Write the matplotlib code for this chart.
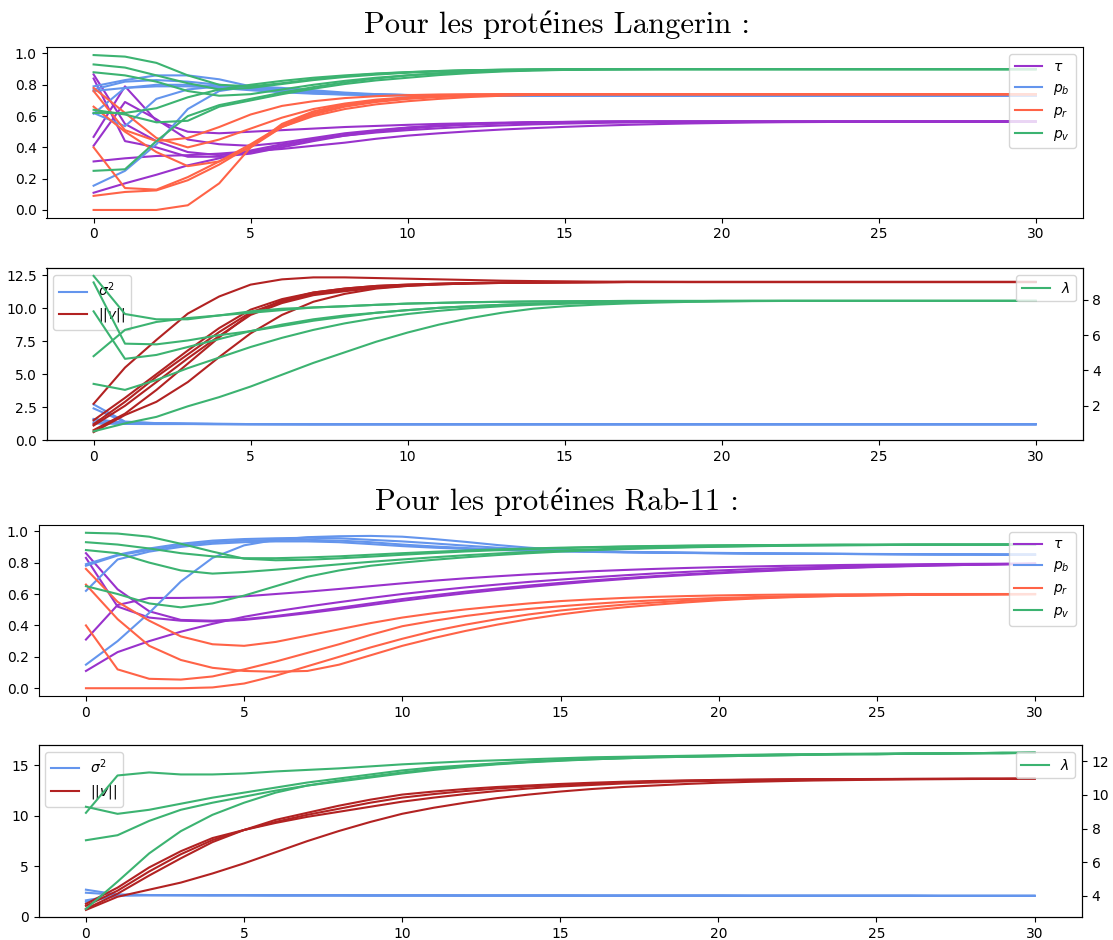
import matplotlib
matplotlib.use("Agg")
import matplotlib.pyplot as plt

# ---------------- Langerin : parameters (one list per run) ----------------
LANG_TAU = [
    [0.31, 0.33, 0.345, 0.35, 0.36, 0.375, 0.39, 0.41, 0.43, 0.455, 0.475, 0.49, 0.503, 0.514, 0.523, 0.531,
     0.538, 0.544, 0.549, 0.553, 0.556, 0.559, 0.561, 0.562, 0.563, 0.564, 0.565, 0.565, 0.565, 0.565, 0.565],
    [0.11, 0.17, 0.225, 0.285, 0.33, 0.38, 0.42, 0.45, 0.475, 0.495, 0.51, 0.522, 0.532, 0.54, 0.547, 0.552,
     0.556, 0.559, 0.561, 0.563, 0.564, 0.565, 0.565, 0.565, 0.565, 0.565, 0.565, 0.565, 0.565, 0.565, 0.565],
    [0.467, 0.79, 0.57, 0.50, 0.49, 0.50, 0.51, 0.52, 0.53, 0.537, 0.544, 0.55, 0.554, 0.558, 0.561, 0.563,
     0.564, 0.565, 0.565, 0.565, 0.565, 0.565, 0.565, 0.565, 0.565, 0.565, 0.565, 0.565, 0.565, 0.565, 0.565],
    [0.41, 0.69, 0.58, 0.45, 0.42, 0.41, 0.43, 0.46, 0.49, 0.51, 0.527, 0.54, 0.549, 0.555, 0.559, 0.562,
     0.564, 0.565, 0.565, 0.565, 0.565, 0.565, 0.565, 0.565, 0.565, 0.565, 0.565, 0.565, 0.565, 0.565, 0.565],
    [0.866, 0.55, 0.44, 0.37, 0.35, 0.37, 0.41, 0.45, 0.48, 0.505, 0.525, 0.538, 0.548, 0.555, 0.559, 0.562,
     0.564, 0.565, 0.565, 0.565, 0.565, 0.565, 0.565, 0.565, 0.565, 0.565, 0.565, 0.565, 0.565, 0.565, 0.565],
    [0.84, 0.44, 0.40, 0.34, 0.34, 0.36, 0.40, 0.44, 0.475, 0.50, 0.52, 0.535, 0.546, 0.553, 0.558, 0.561,
     0.563, 0.565, 0.565, 0.565, 0.565, 0.565, 0.565, 0.565, 0.565, 0.565, 0.565, 0.565, 0.565, 0.565, 0.565],
]
LANG_PB = [
    [0.155, 0.25, 0.42, 0.645, 0.76, 0.79, 0.78, 0.765, 0.75, 0.74, 0.735, 0.732, 0.731, 0.73, 0.73, 0.73,
     0.73, 0.73, 0.73, 0.73, 0.73, 0.73, 0.73, 0.73, 0.73, 0.73, 0.73, 0.73, 0.73, 0.73, 0.73],
    [0.62, 0.535, 0.71, 0.77, 0.79, 0.785, 0.77, 0.755, 0.745, 0.738, 0.734, 0.732, 0.731, 0.73, 0.73, 0.73,
     0.73, 0.73, 0.73, 0.73, 0.73, 0.73, 0.73, 0.73, 0.73, 0.73, 0.73, 0.73, 0.73, 0.73, 0.73],
    [0.615, 0.78, 0.80, 0.80, 0.79, 0.775, 0.76, 0.75, 0.742, 0.737, 0.734, 0.732, 0.731, 0.73, 0.73, 0.73,
     0.73, 0.73, 0.73, 0.73, 0.73, 0.73, 0.73, 0.73, 0.73, 0.73, 0.73, 0.73, 0.73, 0.73, 0.73],
    [0.79, 0.83, 0.86, 0.86, 0.835, 0.79, 0.765, 0.75, 0.742, 0.737, 0.734, 0.732, 0.731, 0.73, 0.73, 0.73,
     0.73, 0.73, 0.73, 0.73, 0.73, 0.73, 0.73, 0.73, 0.73, 0.73, 0.73, 0.73, 0.73, 0.73, 0.73],
    [0.77, 0.82, 0.83, 0.82, 0.80, 0.775, 0.757, 0.746, 0.739, 0.735, 0.733, 0.731, 0.73, 0.73, 0.73, 0.73,
     0.73, 0.73, 0.73, 0.73, 0.73, 0.73, 0.73, 0.73, 0.73, 0.73, 0.73, 0.73, 0.73, 0.73, 0.73],
    [0.76, 0.78, 0.79, 0.79, 0.78, 0.765, 0.752, 0.743, 0.737, 0.734, 0.732, 0.731, 0.73, 0.73, 0.73, 0.73,
     0.73, 0.73, 0.73, 0.73, 0.73, 0.73, 0.73, 0.73, 0.73, 0.73, 0.73, 0.73, 0.73, 0.73, 0.73],
]
LANG_PR = [
    [0.0, 0.0, 0.0, 0.03, 0.17, 0.40, 0.53, 0.60, 0.645, 0.675, 0.695, 0.71, 0.722, 0.73, 0.735, 0.738,
     0.74, 0.74, 0.74, 0.74, 0.74, 0.74, 0.74, 0.74, 0.74, 0.74, 0.74, 0.74, 0.74, 0.74, 0.74],
    [0.09, 0.115, 0.125, 0.19, 0.29, 0.41, 0.53, 0.61, 0.66, 0.69, 0.71, 0.722, 0.73, 0.735, 0.738, 0.74,
     0.74, 0.74, 0.74, 0.74, 0.74, 0.74, 0.74, 0.74, 0.74, 0.74, 0.74, 0.74, 0.74, 0.74, 0.74],
    [0.40, 0.14, 0.13, 0.21, 0.31, 0.42, 0.54, 0.62, 0.665, 0.695, 0.713, 0.725, 0.732, 0.736, 0.739, 0.74,
     0.74, 0.74, 0.74, 0.74, 0.74, 0.74, 0.74, 0.74, 0.74, 0.74, 0.74, 0.74, 0.74, 0.74, 0.74],
    [0.66, 0.50, 0.37, 0.28, 0.31, 0.40, 0.55, 0.63, 0.675, 0.70, 0.716, 0.727, 0.733, 0.737, 0.739, 0.74,
     0.74, 0.74, 0.74, 0.74, 0.74, 0.74, 0.74, 0.74, 0.74, 0.74, 0.74, 0.74, 0.74, 0.74, 0.74],
    [0.78, 0.62, 0.46, 0.40, 0.45, 0.52, 0.59, 0.645, 0.68, 0.705, 0.72, 0.73, 0.735, 0.738, 0.74, 0.74,
     0.74, 0.74, 0.74, 0.74, 0.74, 0.74, 0.74, 0.74, 0.74, 0.74, 0.74, 0.74, 0.74, 0.74, 0.74],
    [0.76, 0.51, 0.44, 0.46, 0.53, 0.61, 0.665, 0.695, 0.715, 0.727, 0.734, 0.738, 0.74, 0.74, 0.74, 0.74,
     0.74, 0.74, 0.74, 0.74, 0.74, 0.74, 0.74, 0.74, 0.74, 0.74, 0.74, 0.74, 0.74, 0.74, 0.74],
]
LANG_PV = [
    [0.99, 0.98, 0.94, 0.86, 0.80, 0.79, 0.81, 0.835, 0.855, 0.87, 0.88, 0.888, 0.893, 0.896, 0.898, 0.899,
     0.9, 0.9, 0.9, 0.9, 0.9, 0.9, 0.9, 0.9, 0.9, 0.9, 0.9, 0.9, 0.9, 0.9, 0.9],
    [0.93, 0.91, 0.86, 0.81, 0.77, 0.78, 0.805, 0.83, 0.85, 0.865, 0.877, 0.886, 0.892, 0.895, 0.897, 0.899,
     0.9, 0.9, 0.9, 0.9, 0.9, 0.9, 0.9, 0.9, 0.9, 0.9, 0.9, 0.9, 0.9, 0.9, 0.9],
    [0.88, 0.86, 0.82, 0.76, 0.73, 0.74, 0.77, 0.80, 0.825, 0.845, 0.86, 0.872, 0.881, 0.888, 0.893, 0.896,
     0.898, 0.899, 0.9, 0.9, 0.9, 0.9, 0.9, 0.9, 0.9, 0.9, 0.9, 0.9, 0.9, 0.9, 0.9],
    [0.64, 0.61, 0.56, 0.57, 0.66, 0.70, 0.74, 0.775, 0.805, 0.828, 0.845, 0.862, 0.875, 0.885, 0.891, 0.895,
     0.898, 0.899, 0.9, 0.9, 0.9, 0.9, 0.9, 0.9, 0.9, 0.9, 0.9, 0.9, 0.9, 0.9, 0.9],
    [0.62, 0.62, 0.65, 0.72, 0.77, 0.80, 0.825, 0.845, 0.86, 0.872, 0.881, 0.888, 0.893, 0.896, 0.898, 0.899,
     0.9, 0.9, 0.9, 0.9, 0.9, 0.9, 0.9, 0.9, 0.9, 0.9, 0.9, 0.9, 0.9, 0.9, 0.9],
    [0.25, 0.26, 0.44, 0.60, 0.67, 0.71, 0.75, 0.785, 0.815, 0.84, 0.86, 0.874, 0.884, 0.891, 0.895, 0.898,
     0.899, 0.9, 0.9, 0.9, 0.9, 0.9, 0.9, 0.9, 0.9, 0.9, 0.9, 0.9, 0.9, 0.9, 0.9],
]

# ---------------- Langerin : variance, norm, lambda ----------------
LANG_SIGMA2 = [
    [2.7, 1.4, 1.28, 1.24, 1.22, 1.21, 1.21, 1.2, 1.2, 1.2, 1.2, 1.2, 1.2, 1.2, 1.2, 1.2,
     1.2, 1.2, 1.2, 1.2, 1.2, 1.2, 1.2, 1.2, 1.2, 1.2, 1.2, 1.2, 1.2, 1.2, 1.2],
    [2.4, 1.35, 1.27, 1.24, 1.22, 1.21, 1.21, 1.2, 1.2, 1.2, 1.2, 1.2, 1.2, 1.2, 1.2, 1.2,
     1.2, 1.2, 1.2, 1.2, 1.2, 1.2, 1.2, 1.2, 1.2, 1.2, 1.2, 1.2, 1.2, 1.2, 1.2],
    [1.6, 1.3, 1.25, 1.23, 1.22, 1.21, 1.2, 1.2, 1.2, 1.2, 1.2, 1.2, 1.2, 1.2, 1.2, 1.2,
     1.2, 1.2, 1.2, 1.2, 1.2, 1.2, 1.2, 1.2, 1.2, 1.2, 1.2, 1.2, 1.2, 1.2, 1.2],
    [1.55, 1.28, 1.24, 1.22, 1.21, 1.21, 1.2, 1.2, 1.2, 1.2, 1.2, 1.2, 1.2, 1.2, 1.2, 1.2,
     1.2, 1.2, 1.2, 1.2, 1.2, 1.2, 1.2, 1.2, 1.2, 1.2, 1.2, 1.2, 1.2, 1.2, 1.2],
    [1.35, 1.25, 1.23, 1.22, 1.21, 1.2, 1.2, 1.2, 1.2, 1.2, 1.2, 1.2, 1.2, 1.2, 1.2, 1.2,
     1.2, 1.2, 1.2, 1.2, 1.2, 1.2, 1.2, 1.2, 1.2, 1.2, 1.2, 1.2, 1.2, 1.2, 1.2],
    [1.25, 1.22, 1.21, 1.21, 1.2, 1.2, 1.2, 1.2, 1.2, 1.2, 1.2, 1.2, 1.2, 1.2, 1.2, 1.2,
     1.2, 1.2, 1.2, 1.2, 1.2, 1.2, 1.2, 1.2, 1.2, 1.2, 1.2, 1.2, 1.2, 1.2, 1.2],
]
LANG_NORM_V = [
    [2.75, 5.5, 7.6, 9.6, 10.9, 11.8, 12.2, 12.35, 12.35, 12.3, 12.25, 12.2, 12.15, 12.1, 12.07, 12.05,
     12.03, 12.02, 12.01, 12.0, 12.0, 12.0, 12.0, 12.0, 12.0, 12.0, 12.0, 12.0, 12.0, 12.0, 12.0],
    [1.5, 3.2, 5.0, 6.8, 8.5, 9.9, 10.7, 11.2, 11.5, 11.7, 11.8, 11.87, 11.92, 11.95, 11.97, 11.98,
     11.99, 12.0, 12.0, 12.0, 12.0, 12.0, 12.0, 12.0, 12.0, 12.0, 12.0, 12.0, 12.0, 12.0, 12.0],
    [1.2, 2.9, 4.8, 6.5, 8.2, 9.7, 10.5, 11.1, 11.4, 11.6, 11.75, 11.84, 11.9, 11.94, 11.96, 11.98,
     11.99, 12.0, 12.0, 12.0, 12.0, 12.0, 12.0, 12.0, 12.0, 12.0, 12.0, 12.0, 12.0, 12.0, 12.0],
    [1.1, 2.6, 4.4, 6.2, 7.9, 9.5, 10.4, 11.0, 11.3, 11.55, 11.72, 11.82, 11.89, 11.93, 11.96, 11.98,
     11.99, 12.0, 12.0, 12.0, 12.0, 12.0, 12.0, 12.0, 12.0, 12.0, 12.0, 12.0, 12.0, 12.0, 12.0],
    [0.75, 2.0, 3.8, 5.8, 7.8, 9.6, 10.6, 11.2, 11.5, 11.7, 11.8, 11.87, 11.92, 11.95, 11.97, 11.98,
     11.99, 12.0, 12.0, 12.0, 12.0, 12.0, 12.0, 12.0, 12.0, 12.0, 12.0, 12.0, 12.0, 12.0, 12.0],
    [0.6, 1.9, 2.9, 4.4, 6.3, 8.1, 9.5, 10.5, 11.1, 11.5, 11.7, 11.82, 11.89, 11.93, 11.96, 11.98,
     11.99, 12.0, 12.0, 12.0, 12.0, 12.0, 12.0, 12.0, 12.0, 12.0, 12.0, 12.0, 12.0, 12.0, 12.0],
]
LANG_LAMBDA = [
    [9.35, 7.19, 6.89, 6.89, 7.11, 7.34, 7.49, 7.56, 7.63, 7.71, 7.78, 7.82, 7.86, 7.88, 7.90, 7.91,
     7.92, 7.93, 7.93, 7.93, 7.93, 7.93, 7.93, 7.93, 7.93, 7.93, 7.93, 7.93, 7.93, 7.93, 7.93],
    [8.98, 5.51, 5.47, 5.69, 5.99, 6.22, 6.51, 6.81, 7.04, 7.26, 7.41, 7.54, 7.63, 7.71, 7.77, 7.81,
     7.85, 7.88, 7.90, 7.92, 7.93, 7.93, 7.93, 7.93, 7.93, 7.93, 7.93, 7.93, 7.93, 7.93, 7.93],
    [7.34, 4.65, 4.87, 5.32, 5.77, 6.22, 6.59, 6.89, 7.11, 7.26, 7.41, 7.54, 7.63, 7.71, 7.77, 7.81,
     7.85, 7.88, 7.90, 7.92, 7.93, 7.93, 7.93, 7.93, 7.93, 7.93, 7.93, 7.93, 7.93, 7.93, 7.93],
    [4.80, 6.29, 6.74, 6.96, 7.11, 7.26, 7.41, 7.56, 7.63, 7.71, 7.78, 7.82, 7.86, 7.88, 7.90, 7.91,
     7.92, 7.93, 7.93, 7.93, 7.93, 7.93, 7.93, 7.93, 7.93, 7.93, 7.93, 7.93, 7.93, 7.93, 7.93],
    [3.23, 2.89, 3.45, 4.12, 4.72, 5.32, 5.84, 6.29, 6.66, 6.96, 7.19, 7.37, 7.52, 7.63, 7.71, 7.77,
     7.81, 7.85, 7.88, 7.90, 7.92, 7.93, 7.93, 7.93, 7.93, 7.93, 7.93, 7.93, 7.93, 7.93, 7.93],
    [0.54, 0.99, 1.36, 1.96, 2.48, 3.08, 3.75, 4.42, 5.02, 5.62, 6.14, 6.59, 6.96, 7.26, 7.49, 7.63,
     7.72, 7.79, 7.84, 7.88, 7.90, 7.92, 7.93, 7.93, 7.93, 7.93, 7.93, 7.93, 7.93, 7.93, 7.93],
]

# ---------------- Rab-11 : parameters ----------------
RAB_TAU = [
    [0.86, 0.63, 0.49, 0.435, 0.43, 0.44, 0.46, 0.485, 0.512, 0.54, 0.568, 0.592, 0.615, 0.635, 0.654, 0.671,
     0.687, 0.701, 0.714, 0.726, 0.737, 0.746, 0.755, 0.762, 0.768, 0.774, 0.779, 0.783, 0.786, 0.789, 0.792],
    [0.83, 0.52, 0.45, 0.43, 0.425, 0.435, 0.455, 0.478, 0.503, 0.53, 0.557, 0.582, 0.605, 0.626, 0.645, 0.663,
     0.68, 0.695, 0.709, 0.721, 0.732, 0.742, 0.751, 0.759, 0.766, 0.772, 0.777, 0.782, 0.786, 0.789, 0.792],
    [0.31, 0.53, 0.575, 0.575, 0.578, 0.585, 0.60, 0.615, 0.632, 0.65, 0.668, 0.685, 0.70, 0.713, 0.725, 0.735,
     0.745, 0.753, 0.76, 0.766, 0.771, 0.775, 0.779, 0.782, 0.785, 0.787, 0.789, 0.791, 0.792, 0.793, 0.794],
    [0.11, 0.23, 0.30, 0.36, 0.41, 0.455, 0.49, 0.52, 0.548, 0.575, 0.6, 0.622, 0.642, 0.66, 0.677, 0.692,
     0.706, 0.719, 0.731, 0.741, 0.75, 0.758, 0.765, 0.771, 0.776, 0.78, 0.784, 0.787, 0.789, 0.791, 0.793],
]
RAB_PB = [
    [0.15, 0.30, 0.48, 0.68, 0.83, 0.91, 0.945, 0.962, 0.968, 0.97, 0.965, 0.95, 0.932, 0.912, 0.895, 0.882,
     0.874, 0.869, 0.866, 0.864, 0.862, 0.86, 0.858, 0.857, 0.856, 0.855, 0.854, 0.853, 0.852, 0.851, 0.851],
    [0.62, 0.82, 0.87, 0.90, 0.92, 0.93, 0.935, 0.935, 0.93, 0.918, 0.905, 0.895, 0.887, 0.88, 0.875, 0.871,
     0.868, 0.865, 0.863, 0.861, 0.86, 0.858, 0.857, 0.856, 0.855, 0.854, 0.853, 0.852, 0.852, 0.851, 0.851],
    [0.79, 0.85, 0.89, 0.92, 0.94, 0.95, 0.955, 0.958, 0.955, 0.945, 0.935, 0.922, 0.908, 0.895, 0.885, 0.877,
     0.871, 0.867, 0.864, 0.862, 0.86, 0.858, 0.857, 0.856, 0.855, 0.854, 0.853, 0.852, 0.852, 0.851, 0.851],
    [0.78, 0.845, 0.88, 0.91, 0.93, 0.94, 0.945, 0.945, 0.94, 0.93, 0.915, 0.903, 0.893, 0.885, 0.879, 0.874,
     0.87, 0.867, 0.864, 0.862, 0.86, 0.858, 0.857, 0.856, 0.855, 0.854, 0.853, 0.852, 0.852, 0.851, 0.851],
]
RAB_PR = [
    [0.76, 0.55, 0.43, 0.33, 0.28, 0.27, 0.295, 0.335, 0.375, 0.415, 0.45, 0.478, 0.502, 0.522, 0.54, 0.555,
     0.566, 0.575, 0.582, 0.587, 0.591, 0.594, 0.596, 0.597, 0.598, 0.599, 0.6, 0.6, 0.6, 0.6, 0.6],
    [0.40, 0.12, 0.06, 0.055, 0.075, 0.12, 0.17, 0.225, 0.28, 0.34, 0.395, 0.43, 0.46, 0.485, 0.505, 0.522,
     0.537, 0.55, 0.56, 0.568, 0.575, 0.58, 0.585, 0.589, 0.592, 0.594, 0.596, 0.597, 0.598, 0.599, 0.6],
    [0.66, 0.44, 0.27, 0.18, 0.13, 0.11, 0.105, 0.11, 0.15, 0.21, 0.27, 0.32, 0.365, 0.405, 0.44, 0.47,
     0.495, 0.515, 0.532, 0.547, 0.56, 0.57, 0.578, 0.584, 0.589, 0.592, 0.594, 0.596, 0.597, 0.598, 0.599],
    [0.0, 0.0, 0.0, 0.0, 0.005, 0.03, 0.08, 0.14, 0.2, 0.26, 0.315, 0.365, 0.405, 0.44, 0.47, 0.495,
     0.515, 0.532, 0.546, 0.557, 0.566, 0.574, 0.58, 0.585, 0.589, 0.592, 0.594, 0.596, 0.597, 0.598, 0.599],
]
RAB_PV = [
    [0.99, 0.985, 0.965, 0.92, 0.87, 0.825, 0.815, 0.818, 0.827, 0.838, 0.85, 0.861, 0.871, 0.879, 0.886, 0.892,
     0.897, 0.901, 0.904, 0.907, 0.909, 0.911, 0.912, 0.913, 0.914, 0.914, 0.915, 0.915, 0.915, 0.915, 0.915],
    [0.93, 0.915, 0.89, 0.86, 0.84, 0.828, 0.828, 0.833, 0.84, 0.85, 0.86, 0.869, 0.877, 0.884, 0.89, 0.895,
     0.899, 0.903, 0.906, 0.908, 0.91, 0.911, 0.912, 0.913, 0.914, 0.914, 0.915, 0.915, 0.915, 0.915, 0.915],
    [0.88, 0.86, 0.80, 0.75, 0.73, 0.74, 0.755, 0.772, 0.789, 0.805, 0.82, 0.834, 0.847, 0.858, 0.868, 0.877,
     0.884, 0.89, 0.895, 0.899, 0.903, 0.906, 0.908, 0.91, 0.911, 0.912, 0.913, 0.914, 0.914, 0.915, 0.915],
    [0.65, 0.60, 0.54, 0.515, 0.54, 0.59, 0.65, 0.71, 0.75, 0.78, 0.80, 0.818, 0.834, 0.848, 0.86, 0.87,
     0.879, 0.886, 0.892, 0.897, 0.901, 0.904, 0.907, 0.909, 0.911, 0.912, 0.913, 0.914, 0.914, 0.915, 0.915],
]

# ---------------- Rab-11 : variance, norm, lambda ----------------
RAB_SIGMA2 = [
    [2.7, 2.22, 2.17, 2.16, 2.15, 2.15, 2.14, 2.14, 2.14, 2.13, 2.13, 2.13, 2.12, 2.12, 2.12, 2.12,
     2.11, 2.11, 2.11, 2.11, 2.11, 2.1, 2.1, 2.1, 2.1, 2.1, 2.1, 2.09, 2.09, 2.09, 2.09],
    [2.4, 2.2, 2.17, 2.16, 2.15, 2.15, 2.14, 2.14, 2.14, 2.13, 2.13, 2.13, 2.12, 2.12, 2.12, 2.12,
     2.11, 2.11, 2.11, 2.11, 2.11, 2.1, 2.1, 2.1, 2.1, 2.1, 2.1, 2.09, 2.09, 2.09, 2.09],
    [1.65, 2.15, 2.16, 2.16, 2.15, 2.15, 2.14, 2.14, 2.14, 2.13, 2.13, 2.13, 2.12, 2.12, 2.12, 2.12,
     2.11, 2.11, 2.11, 2.11, 2.11, 2.1, 2.1, 2.1, 2.1, 2.1, 2.1, 2.09, 2.09, 2.09, 2.09],
    [1.5, 2.1, 2.15, 2.15, 2.15, 2.15, 2.14, 2.14, 2.14, 2.13, 2.13, 2.13, 2.12, 2.12, 2.12, 2.12,
     2.11, 2.11, 2.11, 2.11, 2.11, 2.1, 2.1, 2.1, 2.1, 2.1, 2.1, 2.09, 2.09, 2.09, 2.09],
]
RAB_NORM_V = [
    [1.3, 2.9, 4.9, 6.5, 7.8, 8.6, 9.6, 10.3, 11.0, 11.6, 12.1, 12.4, 12.65, 12.85, 13.0, 13.15,
     13.27, 13.37, 13.45, 13.5, 13.55, 13.58, 13.6, 13.62, 13.63, 13.64, 13.65, 13.65, 13.66, 13.66, 13.67],
    [1.1, 2.6, 4.5, 6.2, 7.6, 8.6, 9.4, 10.1, 10.7, 11.3, 11.8, 12.15, 12.45, 12.7, 12.9, 13.05,
     13.18, 13.3, 13.4, 13.47, 13.52, 13.56, 13.59, 13.61, 13.62, 13.63, 13.64, 13.65, 13.66, 13.66, 13.67],
    [0.8, 2.3, 4.1, 5.8, 7.4, 8.6, 9.3, 9.9, 10.4, 10.9, 11.4, 11.8, 12.15, 12.45, 12.7, 12.9,
     13.05, 13.2, 13.3, 13.4, 13.47, 13.52, 13.56, 13.59, 13.61, 13.63, 13.64, 13.65, 13.66, 13.66, 13.67],
    [0.7, 2.0, 2.7, 3.4, 4.3, 5.3, 6.4, 7.5, 8.5, 9.4, 10.2, 10.8, 11.3, 11.75, 12.1, 12.4,
     12.65, 12.85, 13.0, 13.15, 13.27, 13.36, 13.43, 13.49, 13.53, 13.57, 13.6, 13.62, 13.64, 13.65, 13.66],
]
RAB_LAMBDA = [
    [8.94, 11.16, 11.34, 11.22, 11.22, 11.28, 11.40, 11.49, 11.58, 11.70, 11.82, 11.91, 12.0, 12.06, 12.12, 12.18,
     12.24, 12.27, 12.30, 12.33, 12.36, 12.39, 12.42, 12.42, 12.45, 12.45, 12.48, 12.48, 12.48, 12.51, 12.51],
    [9.30, 8.88, 9.12, 9.48, 9.84, 10.14, 10.44, 10.74, 10.98, 11.22, 11.46, 11.64, 11.76, 11.88, 12.0, 12.09,
     12.15, 12.21, 12.27, 12.30, 12.33, 12.36, 12.39, 12.42, 12.42, 12.45, 12.45, 12.48, 12.48, 12.51, 12.51],
    [7.31, 7.61, 8.46, 9.12, 9.54, 9.90, 10.26, 10.56, 10.80, 11.04, 11.28, 11.49, 11.67, 11.82, 11.94, 12.03,
     12.12, 12.18, 12.24, 12.27, 12.30, 12.33, 12.36, 12.39, 12.42, 12.42, 12.45, 12.45, 12.48, 12.48, 12.51],
    [3.23, 4.85, 6.53, 7.85, 8.82, 9.54, 10.14, 10.56, 10.86, 11.10, 11.34, 11.55, 11.73, 11.85, 11.97, 12.06,
     12.12, 12.18, 12.24, 12.27, 12.30, 12.33, 12.36, 12.39, 12.42, 12.42, 12.45, 12.45, 12.48, 12.48, 12.51],
]

TITLES = ["Pour les protéines Langerin :", "Pour les protéines Rab-11 :"]

C_TAU = "darkorchid"
C_PB = "cornflowerblue"
C_PR = "tomato"
C_PV = "mediumseagreen"
C_V = "firebrick"

W, H = 1113, 940


def axes_box(left, top, right, bottom):
    # pixel box -> figure fraction
    return [left / W, (H - bottom) / H, (right - left) / W, (bottom - top) / H]


def plot_runs(ax, runs, color, label):
    for i, run in enumerate(runs):
        ax.plot(range(len(run)), run, color=color, label=label if i == 0 else None)


def params_panel(ax, tau, pb, pr, pv):
    plot_runs(ax, tau, C_TAU, r"$\tau$")
    plot_runs(ax, pb, C_PB, r"$p_b$")
    plot_runs(ax, pr, C_PR, r"$p_r$")
    plot_runs(ax, pv, C_PV, r"$p_v$")
    ax.legend(loc="upper right")


def norm_panel(ax, sigma2, norm_v, lam, ylim_left, ylim_right):
    plot_runs(ax, sigma2, C_PB, r"$\sigma^2$")
    plot_runs(ax, norm_v, C_V, r"$||v||$")
    ax.set_ylim(*ylim_left)
    ax.legend(loc="upper left")
    axr = ax.twinx()
    plot_runs(axr, lam, C_PV, r"$\lambda$")
    axr.set_ylim(*ylim_right)
    axr.legend(loc="upper right")


fig = plt.figure(figsize=(W / 100, H / 100), dpi=100)

ax1 = fig.add_axes(axes_box(46.5, 47.3, 1082.7, 217.7))
ax2 = fig.add_axes(axes_box(46.5, 268.3, 1082.7, 440.0))
ax3 = fig.add_axes(axes_box(38.5, 525.0, 1082.5, 696.0))
ax4 = fig.add_axes(axes_box(38.5, 745.0, 1082.0, 917.0))

params_panel(ax1, LANG_TAU, LANG_PB, LANG_PR, LANG_PV)
norm_panel(ax2, LANG_SIGMA2, LANG_NORM_V, LANG_LAMBDA, (0, 13.04), (0.05, 9.78))
params_panel(ax3, RAB_TAU, RAB_PB, RAB_PR, RAB_PV)
norm_panel(ax4, RAB_SIGMA2, RAB_NORM_V, RAB_LAMBDA, (0, 17.0), (2.75, 12.97))

title_font = dict(family=["cmr10", "Liberation Serif"], fontsize=22, ha="center", va="baseline")
fig.text(0.5, (H - 32.7) / H, TITLES[0], **title_font)
fig.text(0.5, (H - 510.5) / H, TITLES[1], **title_font)

fig.savefig("out.png", dpi=100, facecolor="white")
